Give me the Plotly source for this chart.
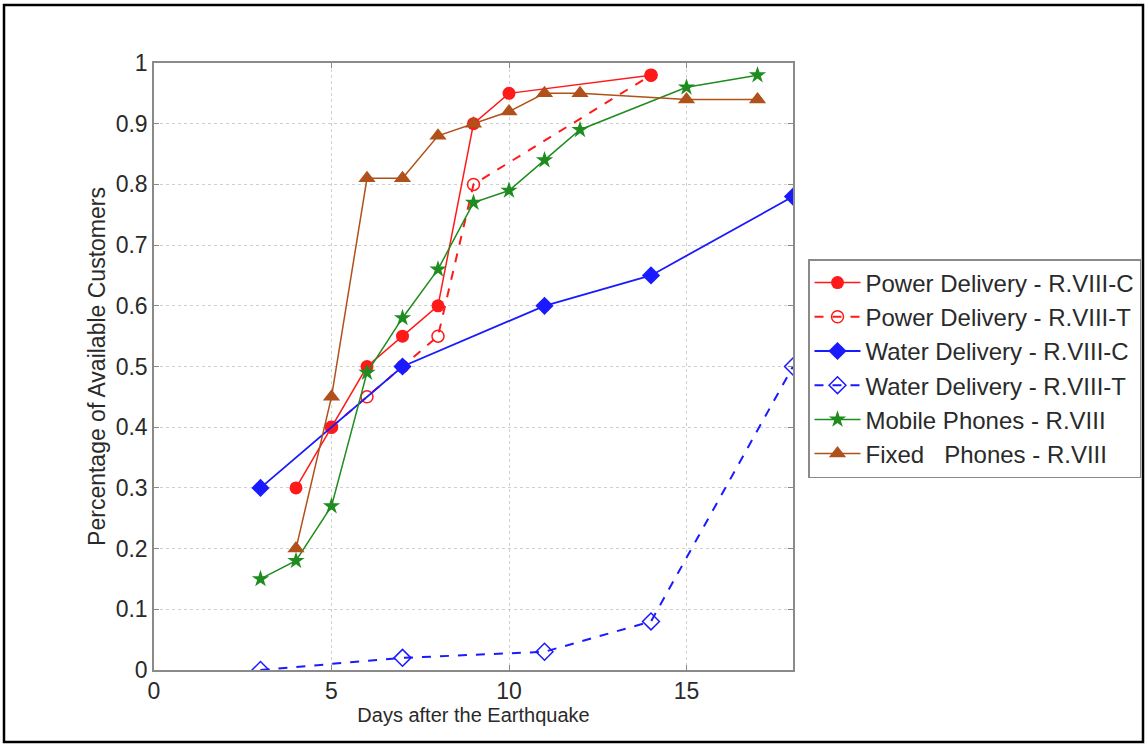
import plotly.graph_objects as go

# ---- data ----
power_c_x = [4, 5, 6, 7, 8, 9, 10, 14]
power_c_y = [0.30, 0.40, 0.50, 0.55, 0.60, 0.90, 0.95, 0.98]

power_t_x = [5, 6, 7, 8, 9, 14]
power_t_y = [0.40, 0.45, 0.50, 0.55, 0.80, 0.98]

water_c_x = [3, 7, 11, 14, 18]
water_c_y = [0.30, 0.50, 0.60, 0.65, 0.78]

water_t_x = [3, 7, 11, 14, 18]
water_t_y = [0.00, 0.02, 0.03, 0.08, 0.50]

mobile_x = [3, 4, 5, 6, 7, 8, 9, 10, 11, 12, 15, 17]
mobile_y = [0.15, 0.18, 0.27, 0.49, 0.58, 0.66, 0.77, 0.79, 0.84, 0.89, 0.96, 0.98]

fixed_x = [4, 5, 6, 7, 8, 9, 10, 11, 12, 15, 17]
fixed_y = [0.20, 0.45, 0.81, 0.81, 0.88, 0.90, 0.92, 0.95, 0.95, 0.94, 0.94]

names = ["Power Delivery - R.VIII-C", "Power Delivery - R.VIII-T",
         "Water Delivery - R.VIII-C", "Water Delivery - R.VIII-T",
         "Mobile Phones - R.VIII", "Fixed\u00a0\u00a0\u00a0Phones - R.VIII"]

x_ticks = [0, 5, 10, 15]
y_ticks = [0, 0.1, 0.2, 0.3, 0.4, 0.5, 0.6, 0.7, 0.8, 0.9, 1]
y_tick_text = ["0", "0.1", "0.2", "0.3", "0.4", "0.5", "0.6", "0.7", "0.8", "0.9", "1"]

RED = "#ff1a1a"
BLUE = "#1a1aff"
GREEN = "#1e8c1e"
BROWN = "#b0501a"
FONT = "Arial, Liberation Sans, sans-serif"
TXT = "#2a2a2a"

fig = go.Figure()
fig.add_trace(go.Scatter(x=power_c_x, y=power_c_y, name=names[0], mode="lines+markers",
                         line=dict(color=RED, width=1.5),
                         marker=dict(symbol="circle", size=13, color=RED)))
fig.add_trace(go.Scatter(x=power_t_x, y=power_t_y, name=names[1], mode="lines+markers",
                         line=dict(color=RED, width=2, dash="dash"),
                         marker=dict(symbol="circle-open", size=12, color=RED, line=dict(width=1.5))))
fig.add_trace(go.Scatter(x=water_c_x, y=water_c_y, name=names[2], mode="lines+markers",
                         line=dict(color=BLUE, width=1.8),
                         marker=dict(symbol="diamond", size=14, color=BLUE)))
fig.add_trace(go.Scatter(x=water_t_x, y=water_t_y, name=names[3], mode="lines+markers",
                         line=dict(color=BLUE, width=2, dash="dash"),
                         marker=dict(symbol="diamond-open", size=13, color=BLUE, line=dict(width=1.5))))
fig.add_trace(go.Scatter(x=mobile_x, y=mobile_y, name=names[4], mode="lines+markers",
                         line=dict(color=GREEN, width=1.5),
                         marker=dict(symbol="star", size=13, color=GREEN)))
fig.add_trace(go.Scatter(x=fixed_x, y=fixed_y, name=names[5], mode="lines+markers",
                         line=dict(color=BROWN, width=1.5),
                         marker=dict(symbol="triangle-up", size=15, color=BROWN)))

axis_common = dict(
    showline=True, linecolor="#8a8a8a", linewidth=1.5, mirror="ticks",
    ticks="inside", ticklen=5, tickcolor="#8a8a8a",
    showgrid=True, gridcolor="#cfcfcf", griddash="dot", gridwidth=1,
    zeroline=False,
    tickfont=dict(family=FONT, size=23, color=TXT),
)

fig.update_xaxes(range=[0, 18], tickvals=x_ticks,
                 title=dict(text="Days after the Earthquake", standoff=2,
                            font=dict(family=FONT, size=20, color=TXT)),
                 **axis_common)
fig.update_yaxes(range=[0, 1], tickvals=y_ticks, ticktext=y_tick_text,
                 title=dict(text="Percentage of Available Customers", standoff=4,
                            font=dict(family=FONT, size=23, color=TXT)),
                 **axis_common)

L, R, T, B = 154, 793, 63, 670
W, H = 1148, 747

def px_x(X):
    return (X - L) / (R - L)

def px_y(Y):
    return (B - Y) / (B - T)

fig.update_layout(
    width=W, height=H,
    margin=dict(l=L, r=W - R, t=T, b=H - B, autoexpand=False),
    paper_bgcolor="white", plot_bgcolor="white",
    font=dict(family=FONT, color=TXT),
    legend=dict(x=px_x(808), y=px_y(259), xanchor="left", yanchor="top",
                bordercolor="#8a8a8a", borderwidth=1.5, bgcolor="white",
                font=dict(family=FONT, size=24, color=TXT), itemwidth=46,
                tracegroupgap=0),
    shapes=[dict(type="rect", xref="paper", yref="paper",
                 x0=px_x(4), x1=px_x(1143), y0=px_y(742), y1=px_y(5),
                 line=dict(color="black", width=2.5), layer="below")],
)

fig.write_html("out.html", config={"displayModeBar": False},
               post_script="document.body.style.margin='0px';")
